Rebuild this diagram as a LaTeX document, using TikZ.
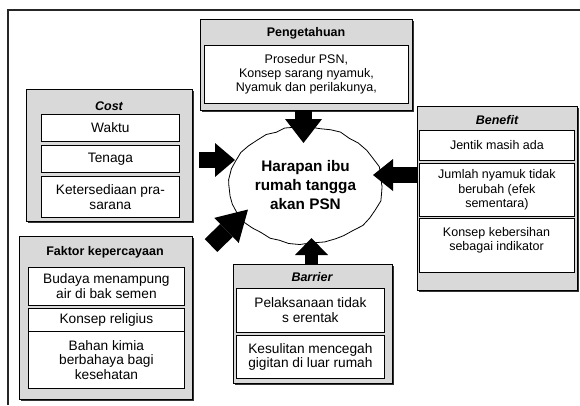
\documentclass[tikz,border=0pt]{standalone}
\usepackage{fontspec}
\setmainfont{Liberation Sans}
\usetikzlibrary{shapes.geometric,arrows.meta,shadows,decorations.pathmorphing}

\tikzset{
  groupbox/.style={draw=black, line width=0.9pt, fill=black!15, anchor=north west, inner sep=0pt,
    drop shadow={shadow xshift=1.2pt, shadow yshift=-1.2pt, opacity=1, fill=black!80}},
  itembox/.style={draw=black, line width=0.8pt, fill=white, anchor=north west, inner sep=0pt,
    align=center, font=\fontsize{12.5}{14.3}\selectfont,
    drop shadow={shadow xshift=0.8pt, shadow yshift=-0.8pt, opacity=1, fill=black}},
  bigtext/.style={font=\fontsize{13.7}{14.8}\selectfont},
  grouptitle/.style={inner sep=0pt, font=\fontsize{12.5}{15}\selectfont\bfseries},
  blockarr/.style args={#1/#2/#3}{line width=#1, -{Triangle[length=#2,width=#3,line width=0pt]}},
}

\begin{document}
\begin{tikzpicture}[x=1pt,y=1pt,yscale=-1]
\useasboundingbox (0,0) rectangle (580,405);

% frame
\draw[line width=1.3pt, black!85] (8,405) -- (8,10) -- (580,10);

% Pengetahuan
\node[groupbox, minimum width=212pt, minimum height=91pt] (peng) at (200,19) {};
\node[grouptitle] (pengtitle) at (306,33) {Pengetahuan};
\node[itembox, minimum width=204pt, minimum height=58pt] (prosedur) at (204,45) {Prosedur PSN,\\Konsep sarang nyamuk,\\Nyamuk dan perilakunya,};

% Cost
\node[groupbox, minimum width=166pt, minimum height=132pt] (cost) at (26,89) {};
\node[grouptitle, font=\fontsize{12.5}{15}\selectfont\bfseries\itshape] (costtitle) at (109,106) {Cost};
\node[itembox, bigtext, minimum width=138pt, minimum height=27pt] (waktu) at (41,114) {Waktu};
\node[itembox, bigtext, minimum width=138pt, minimum height=27pt] (tenaga) at (41,145) {Tenaga};
\node[itembox, bigtext, minimum width=138pt, minimum height=41pt] (sarana) at (41,176) {Ketersediaan pra-\\sarana};

% Faktor kepercayaan
\node[groupbox, minimum width=173pt, minimum height=163pt] (faktor) at (19,236) {};
\node[grouptitle] (faktortitle) at (105,252) {Faktor kepercayaan};
\node[itembox, bigtext, minimum width=156pt, minimum height=38pt] (budaya) at (28,267) {Budaya menampung\\air di bak semen};
\node[itembox, bigtext, minimum width=156pt, minimum height=23pt] (religius) at (28,308) {Konsep religius};
\node[itembox, bigtext, minimum width=156pt, minimum height=57pt] (kimia) at (28,331) {Bahan kimia\\berbahaya bagi\\kesehatan};

% Barrier
\node[groupbox, minimum width=159pt, minimum height=119pt] (barrier) at (233,264) {};
\node[grouptitle, font=\fontsize{12.5}{15}\selectfont\bfseries\itshape] (barriertitle) at (312,277) {Barrier};
\node[itembox, bigtext, minimum width=148pt, minimum height=44pt] (serentak) at (236,288) {Pelaksanaan tidak\\s erentak};
\node[itembox, bigtext, minimum width=148pt, minimum height=43pt] (gigitan) at (236,335) {Kesulitan mencegah\\gigitan di luar rumah};

% Benefit
\node[groupbox, minimum width=160pt, minimum height=184pt] (benefit) at (417,106) {};
\node[grouptitle, font=\fontsize{12.5}{15}\selectfont\bfseries\itshape] (benefittitle) at (497,120) {Benefit};
\node[itembox, minimum width=155pt, minimum height=30pt] (jentik) at (419,130) {Jentik masih ada};
\node[itembox, minimum width=155pt, minimum height=53pt] (jumlah) at (419,163) {Jumlah nyamuk tidak\\berubah (efek\\sementara)};
\node[itembox, minimum width=155pt, minimum height=54pt] (kebersihan) at (419,218) {};
\node[align=center, inner sep=0pt, font=\fontsize{12.5}{14.3}\selectfont] (kebersihantext) at (496.5,240) {Konsep kebersihan\\sebagai indikator};

% centre
\node[ellipse, draw, line width=0.8pt, fill=white, minimum width=133pt, minimum height=116pt,
  decorate, decoration={random steps,segment length=10pt,amplitude=1.1pt},
  align=center, font=\fontsize{15.3}{19}\selectfont\bfseries] (harapan) at (305.5,185.5) {Harapan ibu\\rumah tangga\\akan PSN};

% block arrows
\coordinate (tipT) at (303.5,143);
\coordinate (tipL) at (235,160);
\coordinate (tailL) at (199,160);
\coordinate (tipR) at (373,175);
\coordinate (tipB) at (311.5,238);
\coordinate (tipD) at (248,209.5);
\coordinate (tailD) at (211,245.5);
\draw[blockarr=17pt/24pt/37pt] (tipT |- peng.south) -- (tipT);
\draw[blockarr=16pt/20pt/34pt] (tailL) -- (tipL);
\draw[blockarr=16pt/20pt/32pt] (tipR -| benefit.west) -- (tipR);
\draw[blockarr=13pt/17pt/33pt] (tipB |- barrier.north) -- (tipB);
\draw[blockarr=18pt/30pt/35pt] (tailD) -- (tipD);

\end{tikzpicture}
\end{document}
